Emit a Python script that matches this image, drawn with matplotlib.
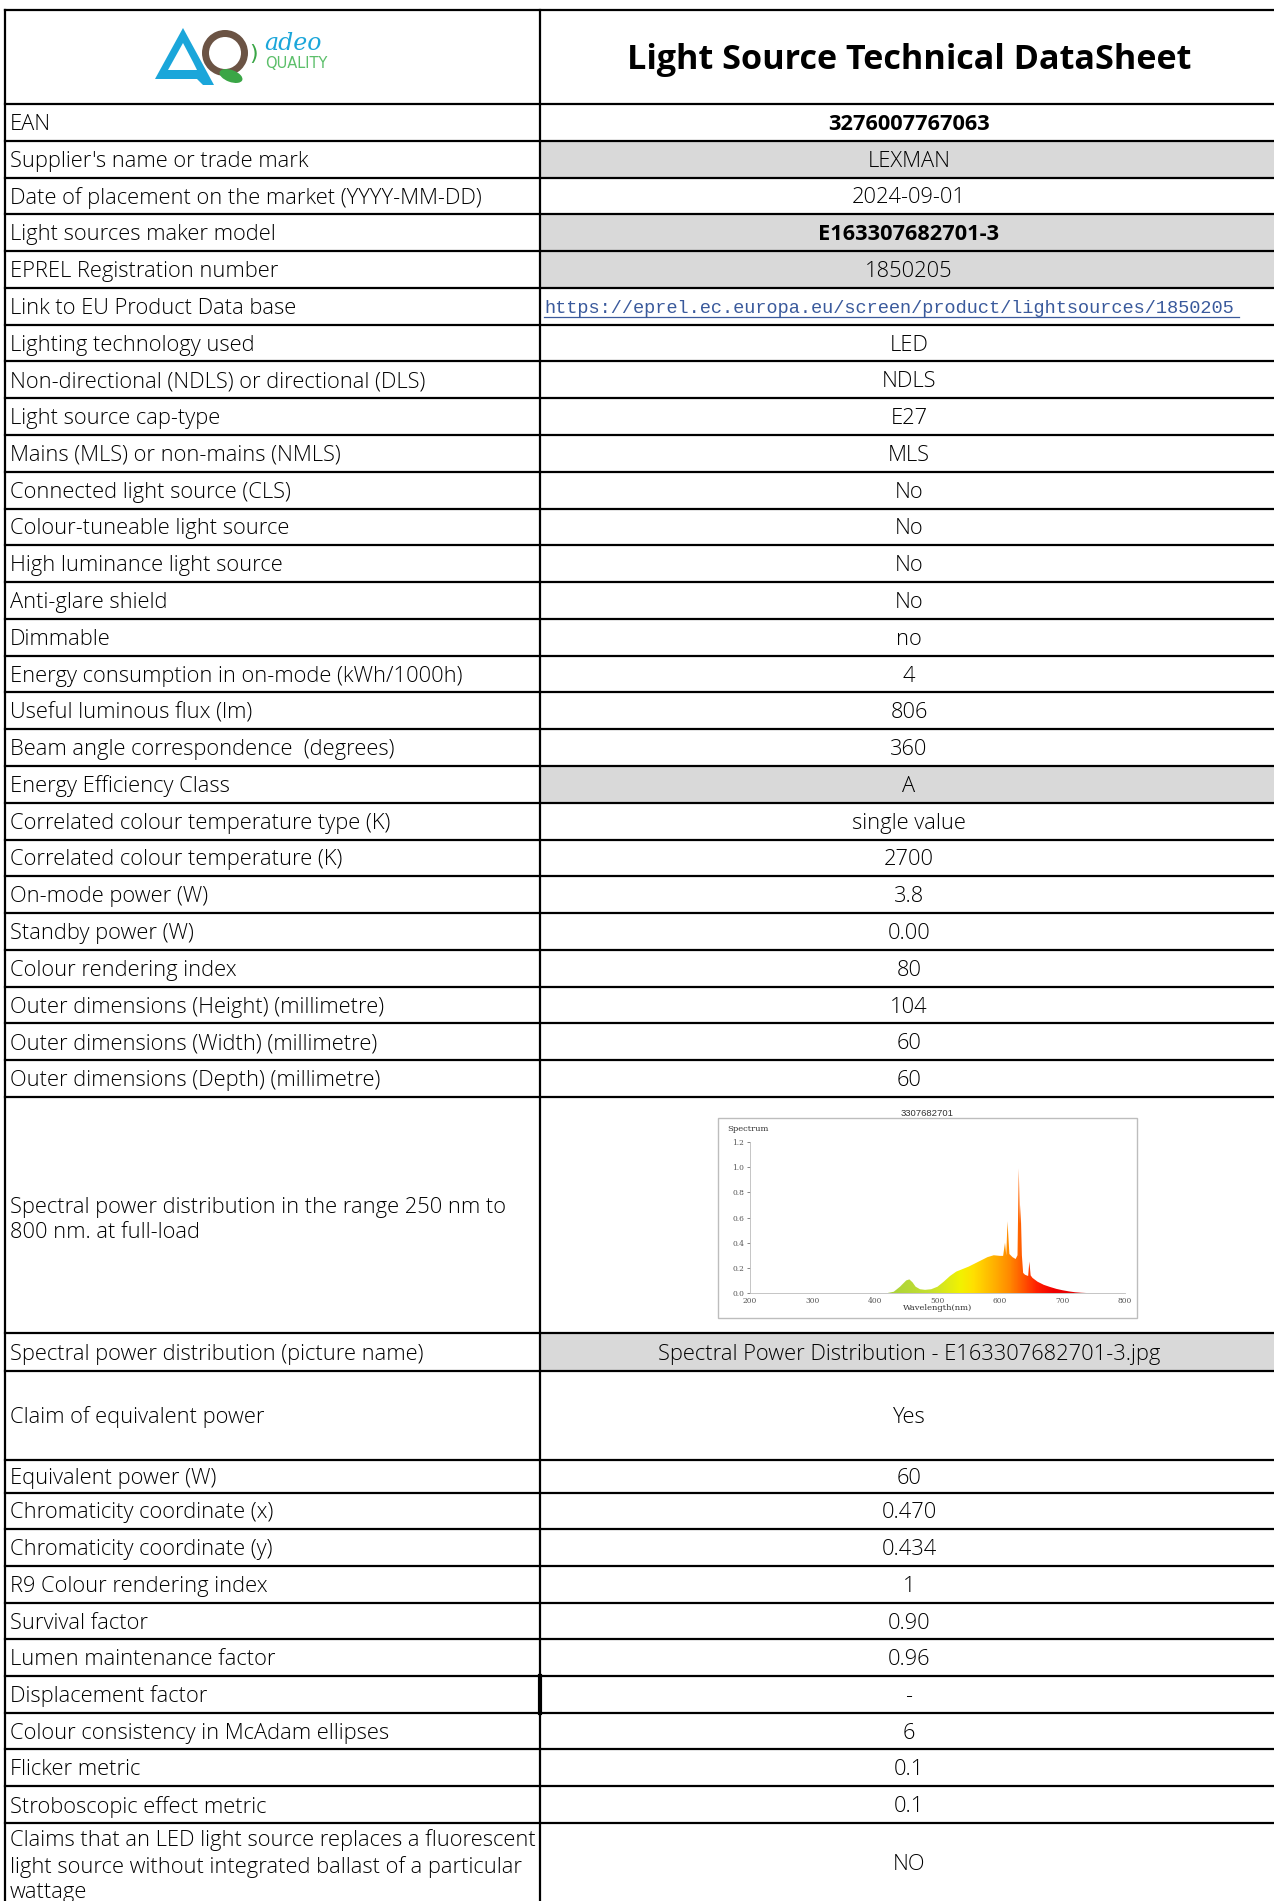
import numpy as np
import matplotlib
matplotlib.use("Agg")
import matplotlib.pyplot as plt
from matplotlib.patches import Rectangle, Polygon, Wedge, Ellipse
from matplotlib.colors import LinearSegmentedColormap

plt.rcParams['font.family'] = ['Open Sans', 'DejaVu Sans']

# ---- data ----
title = "Light Source Technical DataSheet"
labels = [
    "EAN",
    "Supplier's name or trade mark",
    "Date of placement on the market (YYYY-MM-DD)",
    "Light sources maker model",
    "EPREL Registration number",
    "Link to EU Product Data base",
    "Lighting technology used",
    "Non-directional (NDLS) or directional (DLS)",
    "Light source cap-type",
    "Mains (MLS) or non-mains (NMLS)",
    "Connected light source (CLS)",
    "Colour-tuneable light source",
    "High luminance light source",
    "Anti-glare shield",
    "Dimmable",
    "Energy consumption in on-mode (kWh/1000h)",
    "Useful luminous flux (lm)",
    "Beam angle correspondence  (degrees)",
    "Energy Efficiency Class",
    "Correlated colour temperature type (K)",
    "Correlated colour temperature (K)",
    "On-mode power (W)",
    "Standby power (W)",
    "Colour rendering index",
    "Outer dimensions (Height) (millimetre)",
    "Outer dimensions (Width) (millimetre)",
    "Outer dimensions (Depth) (millimetre)",
    "Spectral power distribution in the range 250 nm to\n800 nm. at full-load",
    "Spectral power distribution (picture name)",
    "Claim of equivalent power",
    "Equivalent power (W)",
    "Chromaticity coordinate (x)",
    "Chromaticity coordinate (y)",
    "R9 Colour rendering index",
    "Survival factor",
    "Lumen maintenance factor",
    "Displacement factor",
    "Colour consistency in McAdam ellipses",
    "Flicker metric",
    "Stroboscopic effect metric",
    "Claims that an LED light source replaces a fluorescent\nlight source without integrated ballast of a particular\nwattage",
]
values = [
    "3276007767063", "LEXMAN", "2024-09-01", "E163307682701-3", "1850205",
    "https://eprel.ec.europa.eu/screen/product/lightsources/1850205",
    "LED", "NDLS", "E27", "MLS", "No", "No", "No", "No", "no", "4", "806", "360",
    "A", "single value", "2700", "3.8", "0.00", "80", "104", "60", "60",
    "", "Spectral Power Distribution - E163307682701-3.jpg", "Yes", "60",
    "0.470", "0.434", "1", "0.90", "0.96", "-", "6", "0.1", "0.1", "NO",
]
grey_rows = [1, 3, 4, 18, 28]
bold_rows = [0, 3]
link_row = 5
chart_row = 27

spec_title = "3307682701"
wavelength = [420, 430, 440, 450, 455, 460, 465, 472, 480, 490, 500, 510, 520,
              530, 540, 550, 560, 570, 580, 590, 600, 605, 608, 610, 612, 615,
              620, 625, 628, 630, 632, 633, 635, 637, 640, 645, 647, 649, 652,
              660, 670, 680, 690, 700, 710, 720, 730, 738]
spectrum = [0.0, 0.01, 0.05, 0.10, 0.108, 0.085, 0.05, 0.03, 0.025, 0.03, 0.05,
            0.09, 0.135, 0.17, 0.19, 0.21, 0.235, 0.26, 0.285, 0.30, 0.295,
            0.295, 0.40, 0.30, 0.57, 0.31, 0.285, 0.27, 0.30, 0.99, 0.55, 0.70,
            0.30, 0.16, 0.145, 0.135, 0.25, 0.14, 0.12, 0.09, 0.065, 0.048,
            0.033, 0.022, 0.013, 0.006, 0.002, 0.0]

# ---- layout (pixels) ----
W, H = 1274, 1901
x_left, x_div, x_right = 5, 540, 1280
y_top, y_head = 10, 104
row_h = [36.78] * 27 + [236, 38, 88.5, 33] + [36.7] * 9 + [90]
edges = np.concatenate([[y_head], y_head + np.cumsum(row_h)])

fig = plt.figure(figsize=(W / 100, H / 100), dpi=100)
ax = fig.add_axes([0, 0, 1, 1])
ax.set_xlim(0, W)
ax.set_ylim(H, 0)
ax.axis('off')
renderer = fig.canvas.get_renderer()


def fit_size(text, target_px, **kw):
    t = ax.text(0, 0, text, fontsize=10, **kw)
    w = t.get_window_extent(renderer).width
    t.remove()
    return 10 * target_px / w


body_w = 'light'
body_fs = fit_size("Energy consumption in on-mode (kWh/1000h)", 451, weight=body_w)
bold_fs = fit_size("3276007767063", 162, weight='bold')
title_fs = fit_size(title, 565, weight='bold')
link_fs = fit_size(values[link_row], 695, family='Liberation Mono')
val_x = 909
dy = 2  # baseline nudge

for i, (lab, val) in enumerate(zip(labels, values)):
    top, bot = edges[i], edges[i + 1]
    yc = (top + bot) / 2 + dy
    if i in grey_rows:
        ax.add_patch(Rectangle((x_div, top), x_right - x_div, bot - top,
                               facecolor='#d9d9d9', edgecolor='none', zorder=0))
    if i == len(labels) - 1:
        ax.text(10, 1866, lab, ha='left', va='center', fontsize=body_fs,
                weight=body_w, linespacing=1.25, color='black')
        ax.text(val_x, 1865, val, ha='center', va='center', fontsize=body_fs,
                weight=body_w)
        continue
    if i == chart_row:
        ax.text(10, yc + 3, lab, ha='left', va='center', fontsize=body_fs,
                weight=body_w, linespacing=1.22, color='black')
        continue
    ax.text(10, yc, lab, ha='left', va='center', fontsize=body_fs,
            weight=body_w, color='black')
    if i == link_row:
        ax.text(x_div + 4, yc, val, ha='left', va='center', fontsize=link_fs,
                family='Liberation Mono', color='#3a5a9c')
        ax.plot([x_div + 4, x_div + 699], [yc + 9, yc + 9], color='#3a5a9c', lw=0.9)
    elif i in bold_rows:
        ax.text(val_x, yc, val, ha='center', va='center', fontsize=bold_fs,
                weight='bold')
    else:
        ax.text(val_x, yc, val, ha='center', va='center', fontsize=body_fs,
                weight=body_w)

# grid lines
lw = 1.6
ax.plot([x_left, W], [y_top, y_top], color='black', lw=lw)
for e in edges[:-1]:
    ax.plot([x_left, W], [e, e], color='black', lw=lw)
ax.plot([x_left, x_left], [y_top, H], color='black', lw=lw)
ax.plot([x_div, x_div], [y_top, H], color='black', lw=lw)
ax.plot([x_div, x_div], [edges[36], edges[37]], color='black', lw=3)

# title
ax.text(909, 60, title, ha='center', va='center', fontsize=title_fs, weight='bold')

# logo
ax.add_patch(Wedge((225, 53), 23, 0, 360, width=7, facecolor='#6b5344', edgecolor='none'))
ax.add_patch(Polygon([(155, 79), (183, 28), (214, 85), (203, 85), (197, 79)],
                     closed=True, facecolor='#1ba6da', edgecolor='none'))
ax.add_patch(Polygon([(168, 70), (183, 43), (193, 62), (197, 70)], closed=True,
                     facecolor='white', edgecolor='none'))
ax.add_patch(Ellipse((231, 76), 24, 12, angle=20, facecolor='#3aa646', edgecolor='none'))
ax.text(254, 54, ")", color='#3aa646', fontsize=16, ha='center', va='center',
        family='DejaVu Sans')
ax.text(264, 44, "adeo", color='#1ba6da', fontsize=17, style='italic',
        family='DejaVu Serif', ha='left', va='center')
ax.text(265, 63, "QUALITY", color='#5cbf6a', fontsize=10.5, ha='left', va='center',
        family='DejaVu Sans')

# spectrum picture
ax.add_patch(Rectangle((718, 1118), 419, 200, facecolor='white',
                       edgecolor='#bdbdbd', lw=1.0))
ax.text(927, 1113, spec_title, ha='center', va='center', fontsize=6.8,
        family='Liberation Sans', color='#333333')
ax.text(727, 1129, "Spectrum", ha='left', va='center', fontsize=6,
        family='DejaVu Serif', color='#333333')

sax = fig.add_axes([750 / W, (H - 1293) / H, 375 / W, 151 / H])
poly = sax.fill_between(wavelength, spectrum, color='none', lw=0)
cmap = LinearSegmentedColormap.from_list('spec', [
    (0.0, '#a9d23a'), (0.2, '#c6e030'), (0.34, '#f2f200'), (0.4, '#ffe000'),
    (0.5, '#ffb000'), (0.57, '#ff8a00'), (0.63, '#ff5a00'), (0.7, '#ff2000'),
    (0.78, '#f00000'), (1.0, '#d00000')])
grad = np.linspace(0, 1, 400).reshape(1, -1)
img = sax.imshow(grad, extent=[420, 760, 0, 1.2], aspect='auto', cmap=cmap,
                 origin='lower')
img.set_clip_path(poly.get_paths()[0], transform=sax.transData)
sax.set_xlim(200, 800)
sax.set_ylim(0, 1.2)
sax.set_xticks([200, 300, 400, 500, 600, 700, 800])
sax.set_yticks([0, 0.2, 0.4, 0.6, 0.8, 1.0, 1.2])
sax.set_yticklabels(["%.1f" % v for v in [0, 0.2, 0.4, 0.6, 0.8, 1.0, 1.2]])
sax.tick_params(labelsize=5.4, length=2, width=0.5, colors='#555555', pad=2)
sax.tick_params(axis='x', length=0, pad=3)
for lab in sax.get_xticklabels() + sax.get_yticklabels():
    lab.set_family('DejaVu Serif')
for s in ['top', 'right']:
    sax.spines[s].set_visible(False)
for s in ['left', 'bottom']:
    sax.spines[s].set_color('#bbbbbb')
    sax.spines[s].set_linewidth(0.6)
sax.set_xlabel("Wavelength(nm)", fontsize=6, family='DejaVu Serif', labelpad=-1,
               color='#333333')
sax.patch.set_alpha(0)

fig.savefig("out.png", dpi=100)
